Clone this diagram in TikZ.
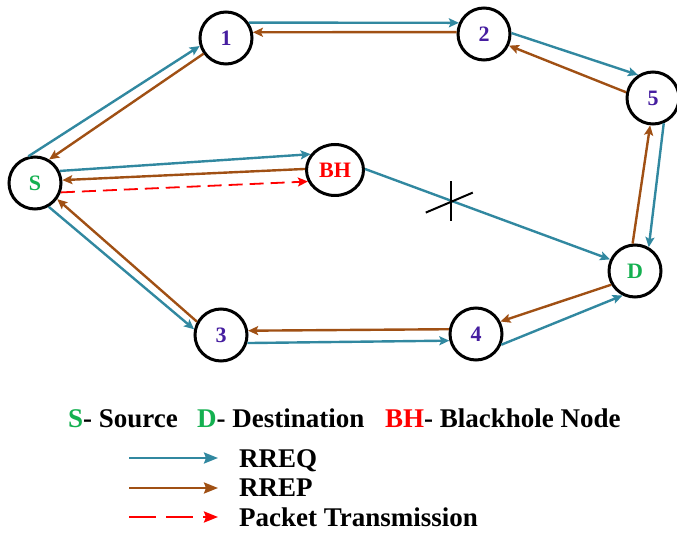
\documentclass[tikz,border=0pt]{standalone}
\usepackage{fontspec}
\setmainfont{Liberation Serif}
\usetikzlibrary{arrows.meta,shapes.geometric}
\definecolor{rreq}{RGB}{49,136,160}
\definecolor{rrep}{RGB}{160,80,20}
\definecolor{numc}{RGB}{70,30,160}
\definecolor{grn}{RGB}{20,176,80}
\begin{document}
\begin{tikzpicture}[x=1pt,y=-1pt,
  nd/.style={circle,draw=black,line width=3pt,minimum size=52pt,inner sep=0pt,fill=white,
    font=\fontsize{22}{22}\selectfont\bfseries},
  req/.style={draw=rreq,line width=2.4pt,-{Stealth[length=10pt,width=9pt,inset=2pt]}},
  rep/.style={draw=rrep,line width=2.4pt,-{Stealth[length=10pt,width=9pt,inset=2pt]}},
  pkt/.style={draw=red,line width=1.8pt,dash pattern=on 14pt off 7pt,-{Stealth[length=10pt,width=9pt,inset=2pt]}},
  lgarrow/.style={line width=2.4pt,-{Stealth[length=14pt,width=11pt,inset=2pt]}},
  lg/.style={anchor=base west,inner sep=0pt,font=\fontsize{27}{27}\selectfont\bfseries}]
\useasboundingbox (0,0) rectangle (677,534);
% nodes
\node[nd,text=grn] (S) at (35,183) {S};
\node[nd,text=numc] (n1) at (226,38) {1};
\node[nd,text=numc] (n2) at (484,34) {2};
\node[nd,text=numc] (n5) at (653,98) {5};
\node[nd,ellipse,minimum width=57pt,minimum height=51pt,text=red] (BH) at (335,170) {BH};
\node[nd,text=grn] (D) at (635,271) {D};
\node[nd,text=numc] (n4) at (476,334) {4};
\node[nd,text=numc] (n3) at (221,335) {3};
% connectors
\draw[req] (S.104) -- (n1.197);
\draw[rep] (n1.215) -- (S.59);
\draw[req] (n1.34) -- (n2.156);
\draw[rep] (n2.176) -- (n1.12);
\draw[req] (n2.2) -- (n5.123);
\draw[rep] (n5.168) -- (n2.335);
\draw[rep] (D.95) -- (n5.264);
\draw[req] (n5.293) -- (D.60);
\draw[req] (BH.2) -- coordinate[pos=0.35] (X) (D.155);
\draw[req] (S.26) -- (BH.147);
\draw[rep] (BH.178) -- (S.6);
\draw[pkt] (S.340) -- (BH.203);
\draw[req] (S.300) -- (n3.168);
\draw[rep] (n3.151) -- (S.324);
\draw[req] (n3.343) -- (n4.194);
\draw[rep] (n4.170) -- (n3.9);
\draw[rep] (D.210) -- (n4.27);
\draw[req] (n4.337) -- (D.243);
% cross on broken link
\draw[black,line width=2pt] ([yshift=-20pt]X) -- ([yshift=20pt]X);
\draw[black,line width=2pt] ([shift={(-25pt,-12pt)}]X) -- ([shift={(22pt,8pt)}]X);
% legend
\node[lg] (l1) at (68,427) {\textcolor{grn}{S}- Source};
\node[lg] (l2) at (197,427) {\textcolor{grn}{D}- Destination};
\node[lg] (l3) at (385,427) {\textcolor{red}{BH}- Blackhole Node};
\coordinate (a1) at (129,458); \coordinate (b1) at (218,458);
\coordinate (a2) at (129,488); \coordinate (b2) at (218,488);
\coordinate (a3) at (129,517); \coordinate (b3) at (218,517);
\draw[lgarrow,rreq] (a1) -- (b1);
\draw[lgarrow,rrep] (a2) -- (b2);
\draw[lgarrow,red,dash pattern=on 27pt off 10pt] (a3) -- (b3);
\node[lg] (t1) at (239,467) {RREQ};
\node[lg] (t2) at (239,496) {RREP};
\node[lg] (t3) at (239,526) {Packet Transmission};
\end{tikzpicture}
\end{document}
